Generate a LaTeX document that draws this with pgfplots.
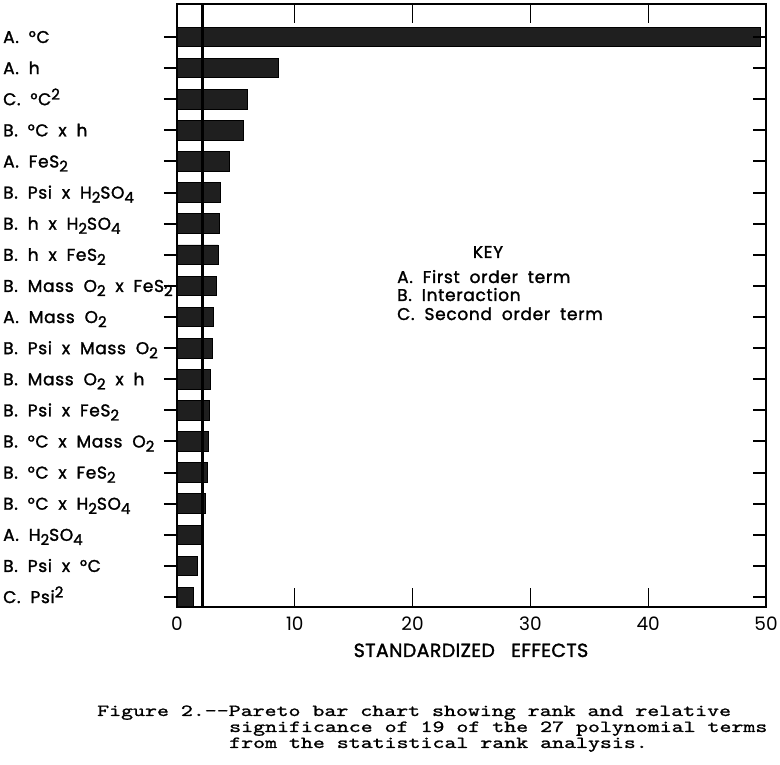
\documentclass[border=0pt]{standalone}
\usepackage{pgfplots}
\pgfplotsset{compat=1.18}
\usepackage{fontspec}
\setmainfont{Poppins}
\newfontfamily\lfont[FakeBold=1.6, WordSpace=1.9, LetterSpace=4]{Poppins}
\newfontfamily\xfont[FakeBold=1.6, WordSpace=1.5, LetterSpace=2]{Poppins}
\newfontfamily\capfont[FakeStretch=1.34, FakeBold=1.2]{lmmono10-regular.otf}
\newcommand\labfont{\lfont\fontsize{17}{19}\selectfont}
\newcommand\sub[1]{\raisebox{-0.45ex}{\fontsize{15}{15}\selectfont #1}}
\newcommand\super[1]{\raisebox{0.6ex}{\fontsize{15}{15}\selectfont #1}}
\pgfplotstableread{
x y
49.5 19
8.58 18
6.0 17
5.6 16
4.45 15
3.65 14
3.6 13
3.5 12
3.35 11
3.05 10
3.0 9
2.8 8
2.75 7
2.65 6
2.55 5
2.4 4
2.2 3
1.7 2
1.35 1
}\effects
\begin{document}
\begin{tikzpicture}[x=1pt,y=1pt]
\path[use as bounding box] (0,0) rectangle (780,765);
\begin{axis}[
  at={(177pt,158pt)}, anchor=south west, scale only axis,
  width=589pt, height=603pt,
  xmin=0, xmax=50, ymin=0.68, ymax=20.06,
  axis line style={line width=2.4pt},
  xtick={0,10,20,30,40,50}, tick align=inside, major tick length=19pt,
  xtick style={line width=1.3pt, black},
  ytick={1,...,19}, ytick style={draw=none},
  yticklabels={{C. Psi\super{2}},{B. Psi x °C},{A. H\sub{2}SO\sub{4}},{B. °C x H\sub{2}SO\sub{4}},{B. °C x FeS\sub{2}},{B. °C x Mass O\sub{2}},{B. Psi x FeS\sub{2}},{B. Mass O\sub{2} x h},{B. Psi x Mass O\sub{2}},{A. Mass O\sub{2}},{B. Mass O\sub{2} x FeS\sub{2}},{B. h x FeS\sub{2}},{B. h x H\sub{2}SO\sub{4}},{B. Psi x H\sub{2}SO\sub{4}},{A. FeS\sub{2}},{B. °C x h},{C. °C\super{2}},{A. h},{A. °C}},
  yticklabel style={anchor=base west, inner sep=0pt, yshift=-6pt, xshift=-174pt, font=\labfont},
  xticklabel style={anchor=base, yshift=-24pt, font=\fontsize{18.5}{20}\selectfont},
  /pgf/number format/assume math mode=true,
]
\addplot[xbar, bar width=0.63, fill=black!88, draw=black, line width=0.8pt] table[x=x,y=y] {\effects};
\addplot[line width=2.4pt, black] coordinates {(2.15,0.68) (2.15,20.06)};
\end{axis}
\begin{axis}[
  at={(177pt,158pt)}, anchor=south west, scale only axis,
  width=589pt, height=603pt,
  xmin=0, xmax=50, ymin=0.68, ymax=20.06,
  axis line style={draw=none}, xtick=\empty,
  ytick={1,...,19}, yticklabels={}, ytick pos=left, tick align=outside,
  major tick length=13pt, ytick style={line width=2pt, black},
]
\addplot[draw=none] coordinates {(1,1)};
\end{axis}
\begin{axis}[
  at={(177pt,158pt)}, anchor=south west, scale only axis,
  width=589pt, height=603pt,
  xmin=0, xmax=50, ymin=0.68, ymax=20.06,
  axis line style={draw=none}, xtick=\empty,
  ytick={1,...,19}, yticklabels={}, ytick pos=right, tick align=inside,
  major tick length=13pt, ytick style={line width=2pt, black},
]
\addplot[draw=none] coordinates {(1,1)};
\end{axis}
\node[anchor=base, font=\xfont\fontsize{19}{20}\selectfont] at (471,108) {STANDARDIZED\ \ EFFECTS};
\node[anchor=base, font=\labfont] at (488,507) {KEY};
\node[anchor=base west, font=\labfont, inner sep=0pt] at (397,482) {A. First order term};
\node[anchor=base west, font=\labfont, inner sep=0pt] at (397,464) {B. Interaction};
\node[anchor=base west, font=\labfont, inner sep=0pt] at (397,445) {C. Second order term};
\node[anchor=base west, font=\capfont\fontsize{17}{17}\selectfont, inner sep=0pt] at (97,49) {Figure 2.--Pareto bar chart showing rank and relative};
\node[anchor=base west, font=\capfont\fontsize{17}{17}\selectfont, inner sep=0pt] at (229,33) {significance of 19 of the 27 polynomial terms};
\node[anchor=base west, font=\capfont\fontsize{17}{17}\selectfont, inner sep=0pt] at (229,17) {from the statistical rank analysis.};
\end{tikzpicture}
\end{document}
